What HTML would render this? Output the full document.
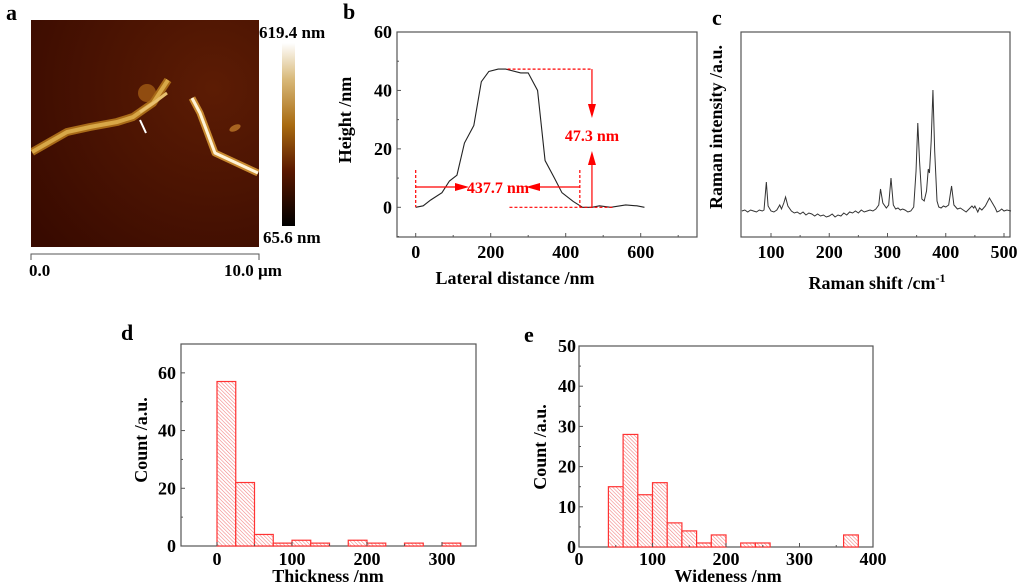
<!DOCTYPE html>
<html><head><meta charset="utf-8">
<style>
html,body{margin:0;padding:0;background:#fff;}
svg{display:block;font-family:"Liberation Serif",serif;font-weight:bold;}
</style></head>
<body>
<svg id="fig" width="1024" height="583" viewBox="0 0 1024 583" xmlns="http://www.w3.org/2000/svg">
<defs>
<pattern id="hatch" patternUnits="userSpaceOnUse" width="2.6" height="2.6" patternTransform="rotate(-45)">
<rect width="2.6" height="2.6" fill="#fff"/>
<line x1="0" y1="0" x2="0" y2="2.6" stroke="#f27a7a" stroke-width="1.1"/>
</pattern>
<linearGradient id="cbar" x1="0" y1="0" x2="0" y2="1">
<stop offset="0" stop-color="#ffffff"/><stop offset="0.2" stop-color="#d8b878"/>
<stop offset="0.45" stop-color="#a86a10"/><stop offset="0.7" stop-color="#5a1800"/>
<stop offset="1" stop-color="#000"/></linearGradient>
<radialGradient id="afmbg" cx="0.8" cy="0.3" r="1"><stop offset="0" stop-color="#5c1c04"/><stop offset="1" stop-color="#380a00"/></radialGradient>
<clipPath id="afmclip"><rect x="31" y="20" width="228" height="227"/></clipPath>
</defs>

<!-- Panel a -->
<text x="6" y="20" font-size="22">a</text>
<g clip-path="url(#afmclip)">
<rect x="31" y="20" width="228" height="227" fill="url(#afmbg)"/>
<circle cx="147" cy="93" r="9" fill="#a05a14" opacity="0.8"/>
<polyline points="32,152 67,132 90,127 117,122 133,117 153,103 168,80" fill="none" stroke="#a86a18" stroke-width="8" stroke-linejoin="round"/>
<polyline points="32,152 67,132 90,127 117,122 133,117 153,103 168,80" fill="none" stroke="#d8a848" stroke-width="4"/>
<polyline points="140,112 155,102 167,93" fill="none" stroke="#e8c070" stroke-width="3"/>
<polyline points="192,98 200,113 215,153 258,173" fill="none" stroke="#c88a30" stroke-width="7" stroke-linejoin="round"/>
<polyline points="192,98 200,113 215,153 258,173" fill="none" stroke="#fff4d8" stroke-width="3" stroke-linejoin="round"/>
<ellipse cx="235" cy="128" rx="6" ry="3" fill="#a86420" transform="rotate(-25 235 128)"/>
<line x1="140" y1="120" x2="146" y2="133" stroke="#fff" stroke-width="2"/>
</g>
<rect x="282" y="43" width="13" height="183" fill="url(#cbar)"/>
<text x="259" y="38" font-size="17">619.4 nm</text>
<text x="263" y="243" font-size="17">65.6 nm</text>
<path d="M31,260 V254 H259 V260" fill="none" stroke="#555" stroke-width="1"/>
<text x="29" y="276" font-size="17">0.0</text>
<text x="224" y="276" font-size="17">10.0 µm</text>

<!-- Panel b -->
<text x="343" y="19" font-size="22">b</text>
<g id="pb"></g>

<!-- Panel c -->
<text x="712" y="25" font-size="22">c</text>
<g id="pc"></g>

<!-- Panel d -->
<text x="121" y="340" font-size="22">d</text>
<g id="pd"></g>

<!-- Panel e -->
<text x="524" y="342" font-size="22">e</text>
<g id="pe"></g>
</svg>
<script>
// ---- data ----
const profileX = [0,20,40,70,90,110,130,155,175,195,220,240,280,300,325,345,370,390,420,445,470,490,520,560,590,610];
const profileY = [0,0.5,2.5,5,9,11,22,28,43,46.5,47.3,47.3,46,46,40,16,10,5,2,0,0,0.5,0,0.8,0.5,0];
const profileXTicks = [0,200,400,600];
const profileYTicks = [0,20,40,60];

const ramanX = [50,55,60,65,70,75,80,85,88,92,95,100,105,110,115,118,122,125,129,135,140,145,150,155,160,165,170,175,180,185,190,195,200,205,210,215,220,225,230,235,240,245,250,255,260,265,270,275,280,285,288,292,298,302,306,310,314,318,322,326,330,335,340,345,349,352,355,359,363,367,370,372,375,378,381,385,388,392,396,400,405,410,414,420,425,430,435,440,445,448,450,455,458,462,468,475,480,485,488,492,496,500,505,512];
const ramanY = [0,1,-1,1,0,-1,1,0,1,29,5,0,-1,1,6,2,8,14,5,0,-2,-1,-3,-1,-4,-2,-3,-5,-3,-5,-4,-6,-5,-3,-6,-4,-5,-2,-4,-1,-2,0,-2,1,-1,0,1,0,2,6,22,8,3,6,33,6,2,3,1,2,1,-1,0,4,40,88,50,12,10,20,42,38,70,121,60,10,4,3,5,4,6,25,6,2,3,1,-1,2,5,3,5,-1,3,1,5,13,8,3,-1,0,2,0,1,0];
const ramanXTicks = [100,200,300,400,500];

const thickBinStart = [0,25,50,75,100,125,150,175,200,225,250,275,300];
const thickCounts = [57,22,4,1,2,1,0,2,1,0,1,0,1];
const thickXTicks = [0,100,200,300];
const thickYTicks = [0,20,40,60];

const wideBinStart = [40,60,80,100,120,140,160,180,200,220,240,260,280,300,320,340,360];
const wideCounts = [15,28,13,16,6,4,1,3,0,1,1,0,0,0,0,0,3];
const wideXTicks = [0,100,200,300,400];
const wideYTicks = [0,10,20,30,40,50];

// ---- helpers ----
const NS='http://www.w3.org/2000/svg';
function mk(parent, tag, attrs, txt){const e=document.createElementNS(NS,tag);for(const k in attrs)e.setAttribute(k,attrs[k]);if(txt!==undefined)e.textContent=txt;parent.appendChild(e);return e;}
function lin(d0,d1,r0,r1){return v=>r0+(v-d0)*(r1-r0)/(d1-d0);}

function frame(g,L,T,R,B,name){
  const r=mk(g,'rect',{x:L,y:T,width:R-L,height:B-T,fill:'none',stroke:'#555','stroke-width':1.2});
  
  
}
function xticks(g,sx,ticks,B,ly,fs,name,minor){
  ticks.forEach(t=>{
    const l=mk(g,'line',{x1:sx(t),x2:sx(t),y1:B,y2:B-4,stroke:'#555'});
    
    
    const tx=mk(g,'text',{x:sx(t),y:ly,'font-size':fs,'text-anchor':'middle'},String(t));
    
    
  });
  (minor||[]).forEach(t=>{mk(g,'line',{x1:sx(t),x2:sx(t),y1:B,y2:B-2,stroke:'#555'});});
}
function yticks(g,sy,ticks,L,lx,fs,name,minor){
  ticks.forEach(t=>{
    const l=mk(g,'line',{x1:L,x2:L+4,y1:sy(t),y2:sy(t),stroke:'#555'});
    
    
    const tx=mk(g,'text',{x:lx,y:sy(t)+6,'font-size':fs,'text-anchor':'end'},String(t));
    
    
  });
  (minor||[]).forEach(t=>{mk(g,'line',{x1:L,x2:L+2,y1:sy(t),y2:sy(t),stroke:'#555'});});
}
function title(g,x,y,txt,rot,fs,name){
  const a={x:x,y:y,'font-size':fs,'text-anchor':'middle'};
  if(rot)a.transform='rotate(-90 '+x+' '+y+')';
  const t=mk(g,'text',a,txt);
  
  
  return t;
}

// ---- panel b ----
(function(){
  const g=document.getElementById('pb');
  const L=397,T=32,R=697,B=237;
  const sx=lin(0,600,415.7,640.7), sy=lin(0,60,207.3,32);
  frame(g,L,T,R,B,'profile');
  xticks(g,sx,profileXTicks,B,258,18,'profile',[100,300,500,700]);
  yticks(g,sy,profileYTicks,L,392,18,'profile',[-10,10,30,50]);
  const p=mk(g,'polyline',{points:profileX.map((x,i)=>sx(x)+','+sy(profileY[i])).join(' '),fill:'none',stroke:'#222','stroke-width':1.1});
  
  
  const red='#f00';
  const ann=mk(g,'g',{stroke:red,fill:'none','stroke-width':1.2});
  
  
  const top=sy(47.3), base=sy(0);
  mk(ann,'line',{x1:sx(245),x2:sx(470),y1:top,y2:top,'stroke-dasharray':'3,2'});
  mk(ann,'line',{x1:sx(250),x2:sx(525),y1:base,y2:base,'stroke-dasharray':'3,2'});
  mk(ann,'line',{x1:sx(0),x2:sx(0),y1:170,y2:base,'stroke-dasharray':'3,2'});
  mk(ann,'line',{x1:sx(437.7),x2:sx(437.7),y1:170,y2:base,'stroke-dasharray':'3,2'});
  mk(ann,'line',{x1:sx(470),x2:sx(470),y1:top,y2:115});
  mk(g,'polygon',{points:`${sx(470)-4},104 ${sx(470)+4},104 ${sx(470)},118`,fill:red});
  mk(ann,'line',{x1:sx(470),x2:sx(470),y1:base,y2:160});
  mk(g,'polygon',{points:`${sx(470)-4},165 ${sx(470)+4},165 ${sx(470)},151`,fill:red});
  mk(ann,'line',{x1:sx(0),x2:460,y1:187,y2:187});
  mk(g,'polygon',{points:`455,183 455,191 469,187`,fill:red});
  mk(ann,'line',{x1:535,x2:sx(437.7),y1:187,y2:187});
  mk(g,'polygon',{points:`540,183 540,191 526,187`,fill:red});
  const t1=mk(g,'text',{x:sx(470),y:141,'font-size':16,fill:red,'text-anchor':'middle'},'47.3 nm');
  
  
  const t2=mk(g,'text',{x:498,y:193,'font-size':16,fill:red,'text-anchor':'middle'},'437.7 nm');
  
  
  title(g,515,284,'Lateral distance /nm',false,18,'profile-x-axis-title');
  title(g,351,120,'Height /nm',true,18,'profile-y-axis-title');
})();

// ---- panel c ----
(function(){
  const g=document.getElementById('pc');
  const L=741,T=32,R=1010,B=237;
  const sx=lin(100,500,771,1004), sy=lin(0,121,211,90);
  frame(g,L,T,R,B,'raman');
  xticks(g,sx,ramanXTicks,B,258,18,'raman',[150,250,350,450]);
  const p=mk(g,'polyline',{points:ramanX.map((x,i)=>sx(x)+','+sy(ramanY[i])).join(' '),fill:'none',stroke:'#333','stroke-width':1});
  
  
  const t=title(g,877,289,'Raman shift /cm',false,18,'raman-x-axis-title');
  mk(t,'tspan',{'font-size':12,dy:-7},'-1');
  title(g,722,127,'Raman intensity /a.u.',true,18,'raman-y-axis-title');
})();

// ---- histograms ----
function hist(id,starts,counts,bw,sx,sy,name){
  const g=document.getElementById(id);
  starts.forEach((s,i)=>{
    if(counts[i]<=0)return;
    const r=mk(g,'rect',{x:sx(s),y:sy(counts[i]),width:sx(s+bw)-sx(s),height:sy(0)-sy(counts[i]),fill:'url(#hatch)',stroke:'#f33','stroke-width':1.2});
    
    
  });
}
(function(){
  const g=document.getElementById('pd');
  const L=181,T=344,R=476,B=546;
  const sx=lin(0,300,217,442), sy=lin(0,70,546,344);
  frame(g,L,T,R,B,'thickness');
  yticks(g,sy,thickYTicks,L,176,18,'thickness',[10,30,50,70]);
  hist('pd',thickBinStart,thickCounts,25,sx,sy,'thickness');
  xticks(g,sx,thickXTicks,B,565,18,'thickness',[50,150,250]);
  title(g,328,582,'Thickness /nm',false,18,'thickness-x-axis-title');
  title(g,147,440,'Count /a.u.',true,18,'thickness-y-axis-title');
})();
(function(){
  const g=document.getElementById('pe');
  const L=579,T=346,R=873,B=547;
  const sx=lin(0,400,579,873), sy=lin(0,50,547,346);
  frame(g,L,T,R,B,'wideness');
  yticks(g,sy,wideYTicks,L,576,18,'wideness',[5,15,25,35,45]);
  hist('pe',wideBinStart,wideCounts,20,sx,sy,'wideness');
  xticks(g,sx,wideXTicks,B,565,18,'wideness',[50,150,250,350]);
  title(g,728,582,'Wideness /nm',false,18,'wideness-x-axis-title');
  title(g,546,447,'Count /a.u.',true,18,'wideness-y-axis-title');
})();
</script>
</body></html>
